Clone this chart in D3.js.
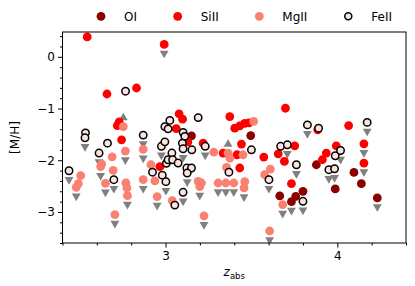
<!DOCTYPE html>
<html><head><meta charset="utf-8">
<script src="https://cdn.jsdelivr.net/npm/d3@7/dist/d3.min.js"></script>
<style>body{margin:0;background:#fff}svg{display:block;font-family:"DejaVu Sans",sans-serif}</style>
</head><body><svg id="c" width="415" height="286"></svg>
<script>
// [z_abs, [M/H], limit flag: 1 = upper limit (down triangle), -1 = lower limit (up triangle), 0 = none]
const oiData = [
  [3.151,-1.528,0],[3.496,-1.522,0],[3.665,-2.69,0],[3.733,-2.80,1],[3.758,-2.70,0],
  [3.800,-2.60,0],[3.878,-2.087,0],[3.988,-2.555,0],[4.097,-2.235,0],[4.140,-2.453,0],[4.233,-2.728,1]
];
const siData = [
  [2.544,0.385,0],[2.992,0.239,1],[2.659,-0.719,0],[2.831,-0.603,0],[2.730,-1.258,0],
  [2.719,-1.329,0],[2.744,-1.605,0],[3.079,-1.104,0],[3.099,-1.206,0],[3.062,-1.39,0],
  [2.967,-2.125,0],[3.130,-1.646,0],[3.374,-1.156,0],[3.403,-1.380,0],[3.432,-1.335,0],
  [3.461,-1.287,0],[3.486,-1.277,0],[3.698,-0.994,0],[3.442,-1.688,0],[3.335,-1.861,0],
  [3.416,-1.894,0],[3.219,-1.669,0],[3.432,-2.15,0],[3.572,-1.938,0],[3.656,-1.875,0],
  [3.692,-2.023,0],[3.733,-2.453,0],[3.752,-1.721,0],[3.886,-1.412,0],[4.066,-1.329,0],
  [3.994,-1.721,0],[3.936,-1.861,0],[3.913,-1.990,0],[4.155,-1.682,1],[4.155,-2.054,1]
];
const mgData = [
  [2.754,-1.349,-1],[2.766,-1.823,1],[2.689,-1.933,0],[2.628,-2.073,0],[2.622,-2.125,1],
  [2.695,-2.197,0],[2.506,-2.299,0],[2.492,-2.453,0],[2.480,-2.524,1],[2.650,-2.447,1],
  [2.769,-2.439,0],[2.775,-2.536,0],[2.778,-2.684,1],[2.705,-3.050,1],[2.870,-1.788,1],
  [2.870,-2.376,1],[2.915,-2.087,0],[2.938,-2.40,0],[2.951,-2.703,1],[3.039,-2.78,0],
  [3.19,-2.41,0],[3.209,-2.44,0],[3.199,-2.51,1],[3.224,-3.075,1],[3.306,-2.44,1],
  [3.351,-2.44,1],[3.397,-2.44,1],[3.461,-2.414,0],[3.457,-2.536,1],[3.355,-2.139,0],
  [3.281,-1.842,0],[3.364,-1.861,-1],[3.374,-1.958,0],[3.451,-1.894,0],[3.513,-1.249,0],
  [3.577,-2.279,0],[3.610,-2.173,0],[3.606,-3.368,1],[3.682,-2.857,1]
];
const feData = [
  [2.767,-0.665,0],[2.534,-1.470,0],[2.531,-1.566,1],[2.662,-1.669,0],[2.870,-1.514,1],
  [2.613,-1.861,1],[2.438,-2.203,1],[2.699,-2.376,1],[2.924,-2.231,0],[2.981,-2.289,0],
  [3.002,-2.414,1],[3.005,-2.058,0],[2.976,-1.730,1],[2.996,-1.644,0],[3.025,-1.229,0],
  [2.996,-1.349,0],[3.015,-1.393,0],[3.037,-1.861,0],[3.015,-1.990,0],[3.041,-1.990,0],
  [3.073,-2.054,0],[3.054,-2.867,0],[3.102,-1.460,0],[3.112,-1.538,0],[3.098,-1.669,0],
  [3.102,-1.778,1],[3.153,-1.798,0],[3.124,-2.150,0],[3.151,-2.150,0],[3.126,-2.247,1],
  [3.102,-2.620,1],[3.190,-1.175,0],[3.231,-1.730,1],[3.369,-2.231,0],[3.500,-1.798,0],
  [3.602,-2.376,1],[3.670,-1.730,0],[3.709,-1.701,1],[3.762,-2.087,1],[3.800,-2.794,1],
  [3.826,-1.316,1],[3.891,-1.380,0],[3.988,-1.913,0],[4.019,-1.811,1],[3.951,-2.183,1],
  [3.984,-2.164,1],[4.174,-1.268,1]
];
const seriesNames = ["OI","SiII","MgII","FeII"];
const xTicks = [3, 4];
const yTicks = [0, -1, -2, -3];
const xDomain = [2.4, 4.4];
const yDomain = [-3.6, 0.48];
const limitOffset = 0.17;

const series = [
  {name:seriesNames[0], data:oiData, fill:"#8b0000", stroke:"none"},
  {name:seriesNames[1], data:siData, fill:"#ff0000", stroke:"none"},
  {name:seriesNames[2], data:mgData, fill:"#fa8072", stroke:"none"},
  {name:seriesNames[3], data:feData, fill:"#fde3de", stroke:"#000"}
];

const svg = d3.select("#c");
const L=62.5, R=406, T=32, B=243;
const x = d3.scaleLinear().domain(xDomain).range([L,R]);
const y = d3.scaleLinear().domain(yDomain).range([B,T]);

// axes
const xAxis = d3.axisBottom(x).tickValues(xTicks).tickSize(4.5).tickPadding(4).tickFormat(d3.format("d"));
const xMinor = d3.axisBottom(x).tickValues(d3.range(24,45,2).map(v=>v/10).filter(v=>xTicks.indexOf(v)<0)).tickSize(2.5).tickFormat("");
const yAxis = d3.axisLeft(y).tickValues(yTicks).tickSize(4.5).tickPadding(3).tickFormat(d=>d<0?"\u2212"+Math.abs(d):d);
const yMinor = d3.axisLeft(y).tickValues(d3.range(-36,5,2).map(v=>v/10).filter(v=>yTicks.indexOf(v)<0)).tickSize(2.5).tickFormat("");

const gx = svg.append("g").attr("transform",`translate(0,${B})`).call(xAxis);
svg.append("g").attr("transform",`translate(0,${B})`).call(xMinor);
const gy = svg.append("g").attr("transform",`translate(${L},0)`).call(yAxis);
svg.append("g").attr("transform",`translate(${L},0)`).call(yMinor);
svg.selectAll(".domain").remove();
svg.selectAll(".tick line").attr("stroke","#000").attr("stroke-width",1);
svg.selectAll(".tick text").attr("font-size",12).attr("fill","#000").attr("font-family","DejaVu Sans");

// triangles (limits)
const clip = svg.append("defs").append("clipPath").attr("id","clip").append("rect")
  .attr("x",L).attr("y",T).attr("width",R-L).attr("height",B-T);
const plot = svg.append("g").attr("clip-path","url(#clip)");
const tri = d3.symbol().type(d3.symbolTriangle).size(34);
series.forEach(s=>{
  plot.append("g").selectAll("path").data(s.data.filter(d=>d[2]!==0)).join("path")
    .attr("d",tri)
    .attr("transform",d=>`translate(${x(d[0])},${y(d[1]-d[2]*limitOffset)}) rotate(${d[2]>0?180:0})`)
    .attr("fill","#808080");
});
series.forEach(s=>{
  plot.append("g").selectAll("circle").data(s.data).join("circle")
    .attr("cx",d=>x(d[0])).attr("cy",d=>y(d[1]))
    .attr("r", s.stroke==="none"?4.4:3.7)
    .attr("fill",s.fill)
    .attr("stroke",s.stroke==="none"?null:s.stroke)
    .attr("stroke-width",1.5);
});

// frame
svg.append("rect").attr("x",L).attr("y",T).attr("width",R-L).attr("height",B-T)
  .attr("fill","none").attr("stroke","#000").attr("stroke-width",1);

// labels
svg.append("text").attr("transform",`translate(19,${(T+B)/2}) rotate(-90)`)
  .attr("text-anchor","middle").attr("font-size",12).text("[M/H]");
const xl = svg.append("text").attr("x",(L+R)/2).attr("y",276).attr("text-anchor","middle").attr("font-size",12);
xl.append("tspan").attr("font-style","italic").text("z");
xl.append("tspan").attr("font-size",8.5).attr("dy",3).text("abs");

// legend
const legX = [101, 177.7, 259.3, 348.3];
series.forEach((s,i)=>{
  svg.append("circle").attr("cx",legX[i]).attr("cy",16.3)
    .attr("r", s.stroke==="none"?4.4:3.5).attr("fill",s.fill)
    .attr("stroke",s.stroke==="none"?null:s.stroke).attr("stroke-width",1.5);
  svg.append("text").attr("x",legX[i]+23).attr("y",20.5).attr("font-size",12).text(s.name);
});
</script></body></html>
